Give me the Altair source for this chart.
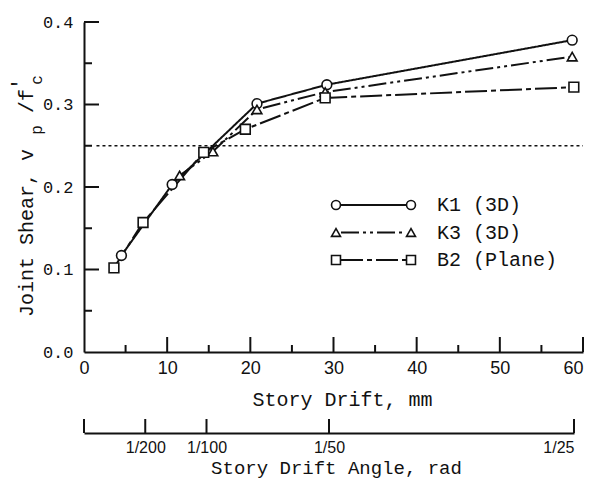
import altair as alt
import pandas as pd

# ---------------- data ----------------
SERIES = ["K1 (3D)", "K3 (3D)", "B2 (Plane)"]
K1_DRIFT = [4.5, 10.6, 20.8, 29.2, 58.7]
K1_SHEAR = [0.117, 0.203, 0.301, 0.324, 0.378]
K3_DRIFT = [11.5, 15.5, 20.8, 29.0, 58.7]
K3_SHEAR = [0.214, 0.243, 0.294, 0.315, 0.358]
B2_DRIFT = [3.6, 7.1, 14.4, 19.4, 29.0, 58.9]
B2_SHEAR = [0.102, 0.157, 0.242, 0.270, 0.308, 0.321]

LIMIT_SHEAR = 0.25
LIMIT_FROM = 1.5
LIMIT_TO = 60

X_TICKS = [0, 10, 20, 30, 40, 50, 60]
X_MAJOR = [10, 20, 30, 40, 50, 60]
X_MINOR = [5, 15, 25, 35, 45, 55]
Y_TICKS = [0.0, 0.1, 0.2, 0.3, 0.4]
Y_MAJOR = [0.1, 0.2, 0.3, 0.4]
Y_MINOR = [0.05, 0.15, 0.25, 0.35]
ANGLE_TICKS = [0, 1 / 200, 1 / 100, 1 / 50, 1 / 25]
ANGLE_VALUES = [1 / 200, 1 / 100, 1 / 50, 1 / 25]
ANGLE_LABELS = ["1/200", "1/100", "1/50", "1/25"]
SHAPES = ["circle", "triangle-up", "square"]
DASHES = [[1, 0], [18, 4, 3, 4, 3, 4], [22, 4, 5, 4]]

# ---------------- tables ----------------
rows = []
for name, xs_, ys_ in zip(SERIES, [K1_DRIFT, K3_DRIFT, B2_DRIFT], [K1_SHEAR, K3_SHEAR, B2_SHEAR]):
    for i, (a, b) in enumerate(zip(xs_, ys_)):
        rows.append({"series": name, "drift": a, "shear": b, "order": i})
df = pd.DataFrame(rows)
key_df = pd.DataFrame({"series": SERIES})

limit_df = pd.DataFrame({"x0": [LIMIT_FROM], "x1": [LIMIT_TO], "y": [LIMIT_SHEAR]})
xmaj_df = pd.DataFrame({"v": X_MAJOR})
xmin_df = pd.DataFrame({"v": X_MINOR})
ymaj_df = pd.DataFrame({"v": Y_MAJOR})
ymin_df = pd.DataFrame({"v": Y_MINOR})
angle_df = pd.DataFrame({"a": ANGLE_TICKS})
one = pd.DataFrame({"k": [0]})

W, H = 499, 330
MONO = "Liberation Mono"
SANS = "Liberation Sans"
INK = "#111111"

xs = alt.Scale(domain=[0, 60], nice=False, zero=False)
ys = alt.Scale(domain=[0, 0.4], nice=False)

x_axis = alt.Axis(orient="bottom", values=X_TICKS, format="d", ticks=False, tickSize=0, grid=False,
                  domainColor=INK, domainWidth=2, labelFont=SANS, labelFontSize=18,
                  labelColor=INK, labelPadding=7, labelFlush=False,
                  labelAlign={"condition": {"test": "datum.value >= 60", "value": "right"}, "value": "center"},
                  title="Story Drift, mm", titleFont=MONO, titleFontSize=20,
                  titleFontWeight="normal", titleColor=INK, titleBaseline="alphabetic",
                  titleX=258, titleY=53)
y_axis = alt.Axis(orient="left", values=Y_TICKS, format=".1f", ticks=False, tickSize=0, grid=False,
                  domainColor=INK, domainWidth=2, labelFont=MONO, labelFontSize=17,
                  labelColor=INK, labelPadding=11, title=None)

limit = alt.Chart(limit_df).mark_rule(color=INK, strokeWidth=1.6, strokeDash=[3, 3]).encode(
    x=alt.X("x0:Q", scale=xs, axis=x_axis),
    x2="x1:Q",
    y=alt.Y("y:Q", scale=ys, axis=y_axis),
)

# legend rows: centre of first row at y=183 (plot coords), 27.5 px apart
LEG_Y = 173
ROW_RANGE = [LEG_Y + 10, LEG_Y + 10 + 55]
lines = alt.Chart(df).mark_line(color=INK, strokeWidth=2).encode(
    x=alt.X("drift:Q", scale=xs, axis=None),
    y=alt.Y("shear:Q", scale=ys, axis=None),
    order="order:Q",
    strokeDash=alt.StrokeDash(
        "series:N", scale=alt.Scale(domain=SERIES, range=DASHES),
        legend=alt.Legend(orient="none", legendX=256, legendY=LEG_Y, title=None, padding=0,
                          symbolType="stroke", symbolSize=4225, symbolStrokeColor=INK,
                          symbolStrokeWidth=2, labelFont=MONO, labelFontSize=20, labelColor=INK,
                          labelOffset=30, clipHeight=20, rowPadding=7.5, labelLimit=300)),
)

points = alt.Chart(df).mark_point(fill="white", stroke=INK, strokeWidth=1.6, opacity=1, size=95).encode(
    x=alt.X("drift:Q", scale=xs, axis=None),
    y=alt.Y("shear:Q", scale=ys, axis=None),
    shape=alt.Shape("series:N", scale=alt.Scale(domain=SERIES, range=SHAPES), legend=None),
)


def key_markers(px):
    # end markers of the legend keys, one row per series on a point scale
    return alt.Chart(key_df).mark_point(fill="white", stroke=INK, strokeWidth=1.6,
                                        opacity=1, size=80).encode(
        x=alt.value(px),
        y=alt.Y("series:N", scale=alt.Scale(type="point", domain=SERIES, range=ROW_RANGE, padding=0),
                axis=None),
        shape=alt.Shape("series:N", scale=alt.Scale(domain=SERIES, range=SHAPES), legend=None),
    )


left_marks = key_markers(252)
right_marks = key_markers(327)

xmaj = alt.Chart(xmaj_df).mark_rule(color=INK, strokeWidth=2).encode(
    x=alt.X("v:Q", scale=xs, axis=None), y=alt.value(H), y2=alt.value(H - 15))
xmin = alt.Chart(xmin_df).mark_rule(color=INK, strokeWidth=2).encode(
    x=alt.X("v:Q", scale=xs, axis=None), y=alt.value(H), y2=alt.value(H - 7))
ymaj = alt.Chart(ymaj_df).mark_rule(color=INK, strokeWidth=2).encode(
    y=alt.Y("v:Q", scale=ys, axis=None), x=alt.value(0), x2=alt.value(15))
ymin = alt.Chart(ymin_df).mark_rule(color=INK, strokeWidth=2).encode(
    y=alt.Y("v:Q", scale=ys, axis=None), x=alt.value(0), x2=alt.value(8))

# y-axis title pieces (rotated), positions relative to the plot area
TITLE_PIECES = [("Joint Shear, v", -57, 211, 20), ("p", -47, 108, 16),
                ("/f", -57, 79, 20), ("'", -64, 62, 20), ("c", -47, 58, 16)]
title_layers = [
    alt.Chart(one).mark_text(text=t, angle=270, align="center", baseline="middle",
                             font=MONO, fontSize=fs, color=INK).encode(x=alt.value(px), y=alt.value(py))
    for t, px, py, fs in TITLE_PIECES
]

# secondary drift-angle axis
label_expr = " : ".join(
    f"abs(datum.value - {v}) < 1e-6 ? '{lab}'" for v, lab in zip(ANGLE_VALUES, ANGLE_LABELS)
) + " : ''"
AX_OFF = 81
AX_Y = H + AX_OFF
angle = alt.Chart(angle_df).mark_rule(color=INK, strokeWidth=2).encode(
    x=alt.X("a:Q", scale=alt.Scale(domain=[0, 0.04], range=[0, 490], nice=False, zero=False),
            axis=alt.Axis(orient="bottom", offset=AX_OFF, values=ANGLE_VALUES, labelExpr=label_expr,
                          ticks=False, tickSize=0, grid=False, domainColor=INK, domainWidth=2,
                          labelFont=SANS, labelFontSize=16, labelColor=INK, labelPadding=6,
                          labelFlush=True, title="Story Drift Angle, rad", titleFont=MONO,
                          titleFontSize=19, titleFontWeight="normal", titleColor=INK,
                          titleBaseline="alphabetic", titleX=252, titleY=40)),
    y=alt.value(AX_Y - 14), y2=alt.value(AX_Y),
)

chart = alt.layer(
    limit, lines, points, xmaj, xmin, ymaj, ymin, *title_layers, angle, left_marks, right_marks
).resolve_scale(
    x="independent", y="independent", shape="independent"
).properties(
    width=W, height=H,
    autosize=alt.AutoSizeParams(type="none"),
    padding={"left": 76, "top": 14, "right": 5, "bottom": 127},
    background="white",
).configure_view(strokeWidth=0)

chart.save("out.html", embed_options={"renderer": "svg", "actions": False})
